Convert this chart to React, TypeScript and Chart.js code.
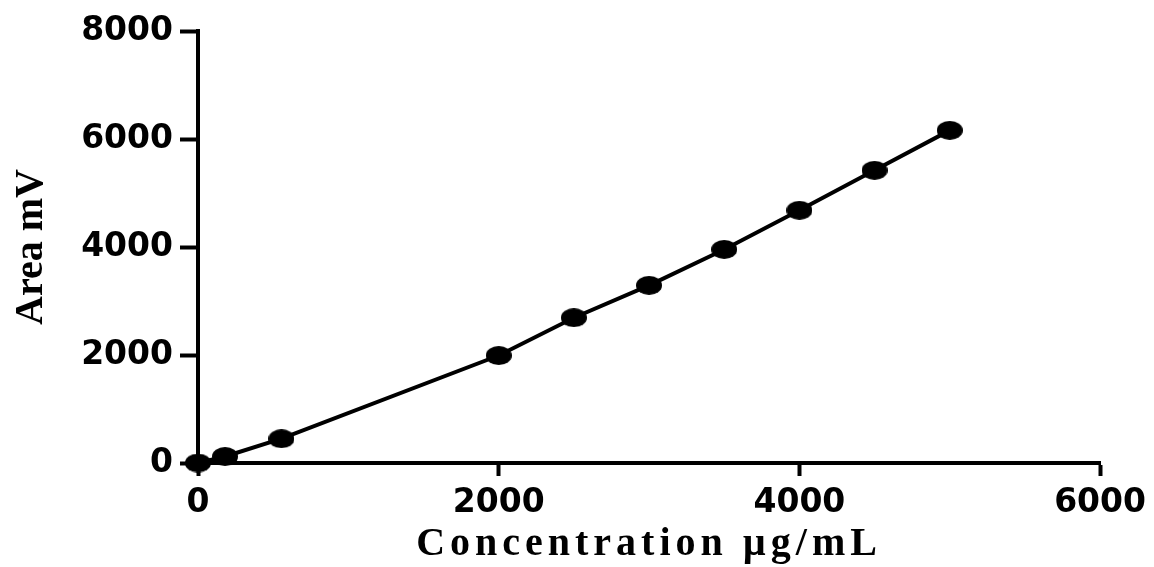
import React, { useEffect, useRef } from "react";
import { Chart, registerables, LinearScale } from "chart.js";

Chart.register(...registerables);

// ---- data ----
const concentrations: number[] = [0, 180, 555, 2000, 2500, 3000, 3500, 4000, 4500, 5000];
const areas: number[] = [0, 120, 450, 1990, 2690, 3290, 3955, 4680, 5420, 6160];
const xTicks: number[] = [0, 2000, 4000, 6000];
const yTicks: number[] = [0, 2000, 4000, 6000, 8000];
const xTitle = "Concentration µg/mL";
const yTitle = "Area mV";

const TITLE_SPACING = "5px";

class SpacedLinearScale extends LinearScale {
  static id = "spacedLinear";
  static defaults = (LinearScale as any).defaults;
  drawTitle() {
    const ctx: any = (this as any).ctx;
    const prev = ctx.letterSpacing;
    ctx.letterSpacing = TITLE_SPACING;
    // @ts-ignore
    super.drawTitle();
    ctx.letterSpacing = prev || "0px";
  }
}
Chart.register(SpacedLinearScale as any);

function makeEllipse(w: number, h: number): HTMLCanvasElement {
  const c = document.createElement("canvas");
  c.width = w;
  c.height = h;
  const g = c.getContext("2d")!;
  g.fillStyle = "#000";
  g.beginPath();
  g.ellipse(w / 2, h / 2, w / 2, h / 2, 0, 0, Math.PI * 2);
  g.fill();
  return c;
}

export default function App() {
  const ref = useRef<HTMLCanvasElement | null>(null);

  useEffect(() => {
    if (!ref.current) return;
    const marker = makeEllipse(26, 19);
    const tickFont = { family: "'DejaVu Sans', sans-serif", size: 33, weight: "bold" as const };
    const titleFamily = "'Liberation Serif', 'Times New Roman', serif";

    const chart = new Chart(ref.current, {
      type: "line",
      data: {
        datasets: [
          {
            data: concentrations.map((x, i) => ({ x, y: areas[i] })),
            borderColor: "#000",
            backgroundColor: "#000",
            borderWidth: 4,
            pointStyle: marker as any,
            pointRadius: 10,
            pointHoverRadius: 10,
            tension: 0,
            clip: false as any,
          },
        ],
      },
      options: {
        responsive: false,
        animation: false,
        events: [],
        layout: { padding: { top: 31, right: 52, left: 0, bottom: 0 } },
        plugins: { legend: { display: false }, tooltip: { enabled: false } },
        scales: {
          x: {
            type: "spacedLinear" as any,
            min: 0,
            max: 6000,
            afterBuildTicks: (s: any) => {
              s.ticks = xTicks.map((v) => ({ value: v }));
            },
            afterFit: (s: any) => {
              s.height = 104;
            },
            grid: {
              display: true,
              drawOnChartArea: false,
              drawTicks: true,
              tickLength: 13,
              tickColor: "#000",
              tickWidth: 4,
            },
            border: { display: true, color: "#000", width: 4 },
            ticks: {
              color: "#000",
              font: tickFont,
              padding: 8,
              maxRotation: 0,
              autoSkip: false,
              callback: (v: any) => String(v),
            },
            title: {
              display: true,
              text: xTitle,
              color: "#000",
              font: { family: titleFamily, size: 40, weight: "bold" },
              padding: { top: 0, bottom: -2 },
            },
          },
          y: {
            type: "linear",
            min: 0,
            max: 8000,
            afterBuildTicks: (s: any) => {
              s.ticks = yTicks.map((v) => ({ value: v }));
            },
            afterFit: (s: any) => {
              s.width = 198;
            },
            grid: {
              display: true,
              drawOnChartArea: false,
              drawTicks: true,
              tickLength: 18,
              tickColor: "#000",
              tickWidth: 4,
            },
            border: { display: true, color: "#000", width: 4 },
            ticks: {
              color: "#000",
              font: tickFont,
              padding: 7,
              autoSkip: false,
              callback: (v: any) => String(v),
            },
            title: {
              display: true,
              text: yTitle,
              color: "#000",
              font: { family: titleFamily, size: 40, weight: "bold" },
              padding: { top: 8, bottom: 0 },
            },
          },
        },
      },
    });
    return () => chart.destroy();
  }, []);

  return (
    <div style={{ position: "fixed", left: 0, top: 0, width: 1154, height: 567, background: "#fff" }}>
      <canvas ref={ref} width={1154} height={567} style={{ display: "block" }} />
    </div>
  );
}
